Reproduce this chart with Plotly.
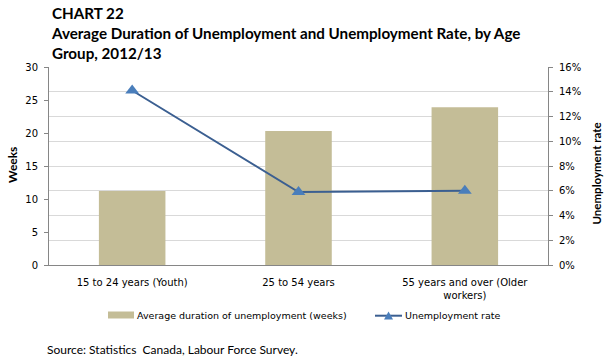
import plotly.graph_objects as go

categories = ["15 to 24 years (Youth)", "25 to 54 years", "55 years and over (Older<br>workers)"]
duration_weeks = [11.2, 20.3, 23.9]
unemployment_rate = [0.141, 0.059, 0.060]
left_ticks = [0, 5, 10, 15, 20, 25, 30]
right_ticks = [0, 0.02, 0.04, 0.06, 0.08, 0.10, 0.12, 0.14, 0.16]
bar_name = "Average duration of unemployment (weeks)"
line_name = "Unemployment rate"

BAR_COLOR = "#c4bd97"
LINE_COLOR = "#3b5f91"
MARKER_COLOR = "#4a7ebb"
TICKFONT = dict(family="DejaVu Sans", size=10, color="#000000")
BOLD = "Lato"

W, H = 605, 359
L, R, T, B = 49, 57, 67, 94
PW, PH = W - L - R, H - T - B

def px(x):
    return (x - L) / PW

def py(y):
    return (H - B - y) / PH

fig = go.Figure()
fig.add_trace(go.Bar(
    x=categories, y=duration_weeks, name=bar_name,
    marker=dict(color=BAR_COLOR, line=dict(width=0)), width=0.4, yaxis="y",
))
fig.add_trace(go.Scatter(
    x=categories, y=unemployment_rate, name=line_name, yaxis="y2",
    mode="lines+markers",
    line=dict(color=LINE_COLOR, width=2),
    marker=dict(symbol="triangle-up", size=12, color=MARKER_COLOR),
))

# manual legend (swatches drawn in paper coordinates)
shapes = [
    dict(type="rect", xref="paper", yref="paper", x0=px(108), x1=px(134), y0=py(318.5), y1=py(311.5),
         fillcolor=BAR_COLOR, line=dict(width=0)),
    dict(type="line", xref="paper", yref="paper", x0=px(375), x1=px(402), y0=py(315.7), y1=py(315.7),
         line=dict(color=LINE_COLOR, width=2)),
    dict(type="path", xref="paper", yref="paper",
         path=f"M {px(384)} {py(319.5)} L {px(393)} {py(319.5)} L {px(388.5)} {py(311.5)} Z",
         fillcolor=MARKER_COLOR, line=dict(width=0)),
]

fig.update_layout(
    width=W, height=H,
    margin=dict(l=L, r=R, t=T, b=B, pad=0),
    paper_bgcolor="white", plot_bgcolor="white",
    showlegend=False,
    shapes=shapes,
    xaxis=dict(
        type="category", showline=True, linecolor="#868686", linewidth=1,
        ticks="", tickfont=TICKFONT, showgrid=False, ticklabelstandoff=8,
    ),
    yaxis=dict(
        range=[0, 30], tickvals=left_ticks, showline=True, linecolor="#868686", linewidth=1,
        ticks="outside", ticklen=4, tickcolor="#868686", tickfont=TICKFONT, showgrid=False,
        zeroline=False, ticklabelstandoff=4,
    ),
    yaxis2=dict(
        range=[0, 0.16], tickvals=right_ticks, tickformat=".0%", overlaying="y", side="right",
        showline=True, linecolor="#868686", linewidth=1, ticks="outside", ticklen=4,
        tickcolor="#868686", tickfont=TICKFONT, showgrid=True, gridcolor="#d9d9d9",
        gridwidth=1, zeroline=False, ticklabelstandoff=4,
    ),
    annotations=[
        dict(text="<b>CHART 22<br>Average Duration of Unemployment and Unemployment Rate, by Age<br>Group, 2012/13</b>",
             xref="paper", yref="paper", x=px(49), y=py(2), xanchor="left", yanchor="top",
             align="left", showarrow=False, font=dict(family=BOLD, size=15.2, color="#000")),
        dict(text="<b>Weeks</b>", xref="paper", yref="paper", x=px(12), y=py(165),
             textangle=-90, showarrow=False, font=dict(family=BOLD, size=12, color="#000"),
             xanchor="center", yanchor="middle"),
        dict(text="<b>Unemployment rate</b>", xref="paper", yref="paper", x=px(596), y=py(173.5),
             textangle=-90, showarrow=False, font=dict(family=BOLD, size=11.5, color="#000"),
             xanchor="center", yanchor="middle"),
        dict(text=bar_name, xref="paper", yref="paper", x=px(135), y=py(315.7),
             xanchor="left", yanchor="middle", showarrow=False,
             font=dict(family="DejaVu Sans", size=9.5, color="#000")),
        dict(text=line_name, xref="paper", yref="paper", x=px(403), y=py(315.7),
             xanchor="left", yanchor="middle", showarrow=False,
             font=dict(family="DejaVu Sans", size=9.5, color="#000")),
        dict(text="Source: Statistics  Canada, Labour Force Survey.", xref="paper", yref="paper",
             x=px(45), y=py(349), xanchor="left", yanchor="middle", showarrow=False,
             font=dict(family="Lato", size=12, color="#000")),
    ],
)

fig.write_html("out.html", config={"displayModeBar": False},
               post_script="document.body.style.margin='0px';")
